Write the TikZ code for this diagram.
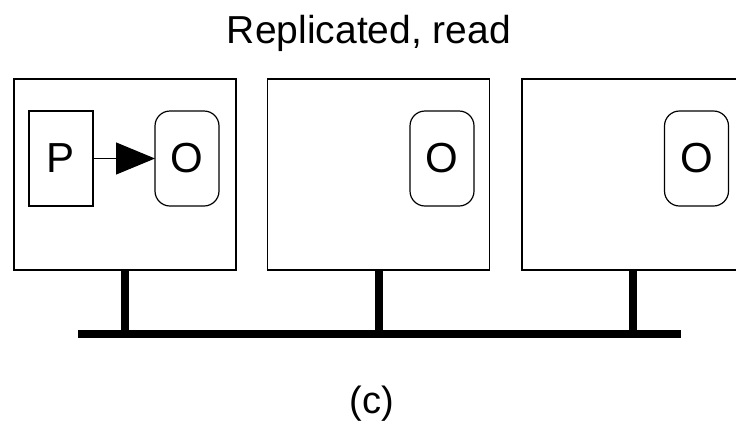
\documentclass[tikz,border=0pt]{standalone}
\usepackage{fontspec}
\setmainfont{Liberation Sans}
\usetikzlibrary{arrows.meta}

\tikzset{
  host/.style={draw, line width=1.2pt, minimum width=222pt, minimum height=191pt,
               inner sep=0pt, outer sep=0pt},
  procbox/.style={draw, line width=1.2pt, minimum width=64pt, minimum height=95pt,
                  inner sep=0pt, outer sep=0pt, font=\fontsize{42}{48}\selectfont},
  objbox/.style={draw, rounded corners=15pt, line width=1.2pt, minimum width=64pt,
                 minimum height=95pt, inner sep=0pt, outer sep=0pt,
                 font=\fontsize{42}{48}\selectfont},
  stem/.style={line width=8pt},
  bus/.style={line width=8pt},
  invoke/.style={line width=1.2pt, -{Triangle[length=39pt,width=32pt]}},
  label/.style={inner sep=0pt, anchor=base}
}

\begin{document}
\begin{tikzpicture}[x=1pt, y=-1pt]
  \useasboundingbox (0,0) rectangle (736,421);
  \clip (0,0) rectangle (736,421);

  % title
  \node[label, font=\fontsize{39}{46}\selectfont] (title) at (369,43) {Replicated, read};

  % three machines
  \node[host] (m1) at (125,174.5) {};
  \node[host] (m2) at (378.5,174.5) {};
  \node[host] (m3) at (633,174.5) {};

  % process and object copies
  \node[procbox] (p)  at (61,158.5) {P};
  \node[objbox]  (o1) at (187,158.5) {O};
  \node[objbox]  (o2) at (442,158.5) {O};
  \node[objbox]  (o3) at (696.5,158.5) {O};

  % read on the local copy
  \draw[invoke] (p.east) -- (o1.west);

  % network
  \coordinate (busL) at (78,334);
  \coordinate (busR) at (681,334);
  \draw[bus] (busL) -- (busR);
  \draw[stem] (m1.south) -- (m1.south |- busL);
  \draw[stem] (m2.south) -- (m2.south |- busL);
  \draw[stem] (m3.south) -- (m3.south |- busL);

  % caption
  \node[label, font=\fontsize{38}{44}\selectfont] (cap) at (372,413) {(c)};
\end{tikzpicture}
\end{document}
